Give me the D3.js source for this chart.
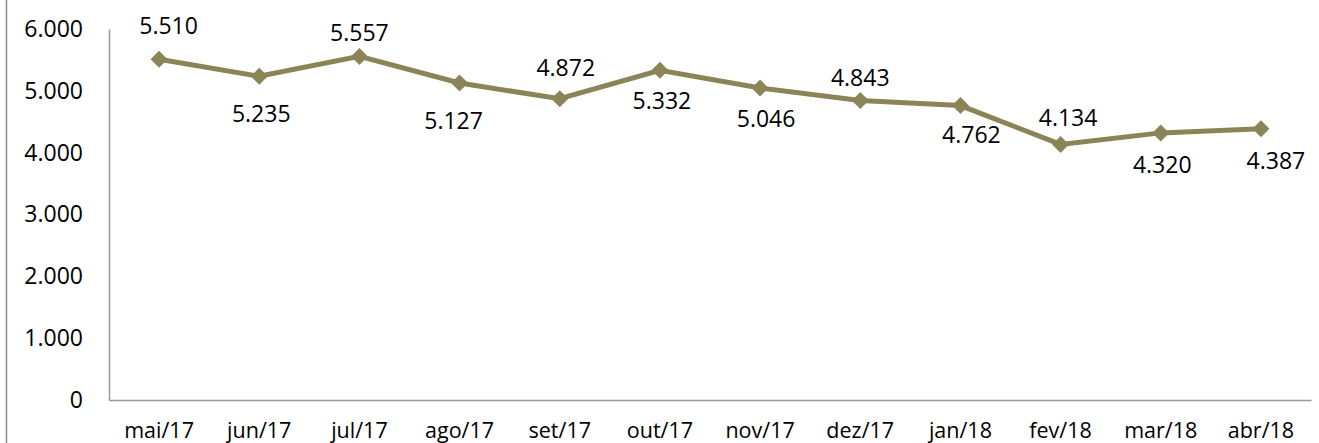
<!DOCTYPE html>
<html><head><meta charset="utf-8">
<script src="https://cdn.jsdelivr.net/npm/d3@7"></script>
<style>body{margin:0;background:#fff}svg{display:block}text{font-family:"Open Sans",sans-serif}</style>
</head><body>
<svg id="c" width="1319" height="443"></svg>
<script>
const categories=["mai/17","jun/17","jul/17","ago/17","set/17","out/17","nov/17","dez/17","jan/18","fev/18","mar/18","abr/18"];
const values=[5510,5235,5557,5127,4872,5332,5046,4843,4762,4134,4320,4387];
const yTicks=[0,1000,2000,3000,4000,5000,6000];
// layout only: label offsets from each point (px)
const labelDx=[9.5,2,0,-6,6,2,6,0,11,7.5,1.5,15];
const labelDy=[-33,37.5,-23,38,-30.5,31,31,-23,29.5,-26.5,32,32];

const svg=d3.select("#c");
const m={l:109,r:1311,t:29,b:400};
const x=d3.scaleBand().domain(categories).range([m.l,m.r]);
const y=d3.scaleLinear().domain([0,6000]).range([m.b,m.t]);
const fmt=v=>v===0?"0":d3.format(",.0f")(v).replace(/,/g,".");
const fmt3=v=>(v/1000).toFixed(3);
const FF="'Open Sans',sans-serif";

svg.append("line").attr("x1",6.5).attr("x2",6.5).attr("y1",0).attr("y2",443).attr("stroke","#8c8c8c").attr("stroke-width",1.5);

const ya=svg.append("g").attr("transform",`translate(${m.l},0)`).call(d3.axisLeft(y).tickValues(yTicks).tickSize(0).tickFormat(fmt));
ya.select(".domain").attr("stroke","#999").attr("stroke-width",1.5);
ya.selectAll("text").attr("x",-26).attr("font-size",23).attr("fill","#000").style("font-family",FF);

const xa=svg.append("g").attr("transform",`translate(0,${m.b})`).call(d3.axisBottom(x).tickSize(0));
xa.select(".domain").attr("stroke","#999").attr("stroke-width",1.5);
xa.selectAll("text").attr("y",38).attr("dy","0").attr("font-size",21.5).attr("fill","#000").style("font-family",FF);

const cx=(d,i)=>x(categories[i])+x.bandwidth()/2;
const line=d3.line().x((d,i)=>cx(d,i)).y(d=>y(d));
svg.append("path").datum(values).attr("d",line).attr("fill","none").attr("stroke","#8b8456").attr("stroke-width",5);

svg.selectAll(".mk").data(values).enter().append("path")
 .attr("transform",(d,i)=>`translate(${cx(d,i)},${y(d)})`)
 .attr("d","M0,-8.5L8.5,0L0,8.5L-8.5,0Z").attr("fill","#8b8456");

svg.selectAll(".lb").data(values).enter().append("text")
 .attr("x",(d,i)=>cx(d,i)+labelDx[i])
 .attr("y",(d,i)=>y(d)+labelDy[i])
 .attr("dy","0.35em").attr("text-anchor","middle").attr("font-size",23).attr("fill","#000")
 .text(fmt3);
</script>
</body></html>
